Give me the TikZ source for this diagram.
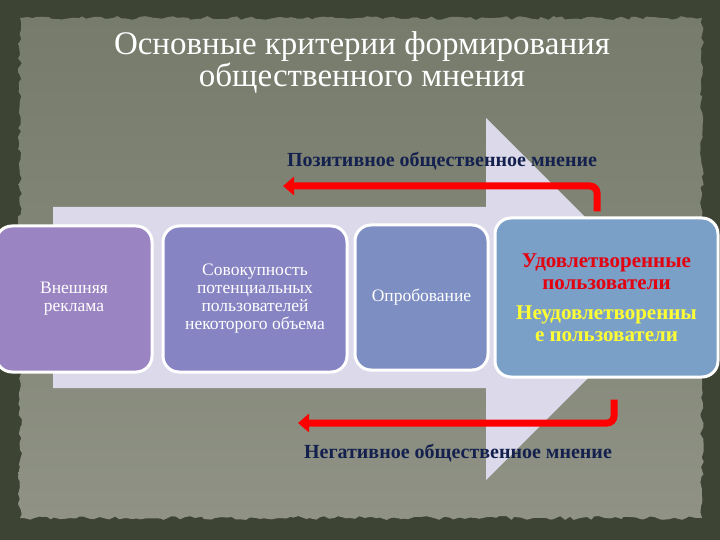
\documentclass[tikz,border=0pt]{standalone}
\usepackage{fontspec}
\setmainfont{Liberation Serif}
\usepackage{tikz}
\usetikzlibrary{calc,arrows.meta,decorations.pathmorphing}
\usepackage{xcolor}
\definecolor{framecol}{HTML}{3E4434}
\definecolor{papertop}{HTML}{767B6B}
\definecolor{paperbot}{HTML}{8F9284}
\definecolor{arrowbody}{HTML}{DCDAEA}
\definecolor{boxa}{HTML}{9A84C2}
\definecolor{boxb}{HTML}{8784C3}
\definecolor{boxc}{HTML}{7D8EC2}
\definecolor{boxd}{HTML}{7BA0C7}
\definecolor{opinion}{HTML}{14214F}
\definecolor{satred}{HTML}{E3000F}
\definecolor{unsatyellow}{HTML}{FFFF33}
\newcommand{\crbox}[8][]{\node[critbox,fill=#3,minimum width=#6,minimum height=#7,#1] (#2) at (#4,#5) {#8};}
\tikzset{
  critbox/.style={draw=white,line width=3pt,rounded corners=16pt,align=center,text=white,inner sep=2pt,font=\fontsize{17.5}{18}\selectfont},
  userbox/.style={font=\bfseries\fontsize{21}{22}\selectfont},
  opinionarrow/.style={draw=red,line width=7pt,rounded corners=7pt,-{Triangle[length=11pt,width=18pt]}},
  opinionlabel/.style={text=opinion,font=\bfseries\fontsize{20}{22}\selectfont}
}

\begin{document}
\begin{tikzpicture}[x=1pt,y=-1pt]

    \useasboundingbox (0,0) rectangle (720,540);
    \clip (0,0) rectangle (720,540);

    \fill[framecol] (0,0) rectangle (720,540);
    \shade[top color=papertop,bottom color=paperbot,decorate,decoration={random steps,segment length=5pt,amplitude=2pt}] (20,18) rectangle (702,518);

    \node[text=white,align=center,font=\fontsize{33}{32}\selectfont] (title) at (362,62) {Основные критерии формирования\\общественного мнения};

    \fill[arrowbody] (53,207) -- (486,207) -- (486,118) -- (667,299) -- (486,480) -- (486,388) -- (53,388) -- cycle;

    \crbox{adv}{boxa}{74}{299}{156}{146}{Внешняя\\реклама}
    \crbox{pool}{boxb}{255}{299}{184}{146}{Совокупность\\потенциальных\\пользователей\\некоторого объема}
    \crbox{trial}{boxc}{421.5}{297.5}{133}{145}{Опробование}
    \crbox[userbox]{users}{boxd}{606.5}{297.5}{223}{159}{\color{satred}Удовлетворенные\\\color{satred}пользователи\\[8pt]\color{unsatyellow}Неудовлетворенны\\\color{unsatyellow}е пользователи}

    \coordinate (posend) at (283,186);
    \coordinate (negend) at (298,423);

    \draw[opinionarrow] ($(users.north)+(-9.5,-5)$) |- (posend);
    \draw[opinionarrow] ($(users.south)+(7.5,21)$) |- (negend);

    \node[opinionlabel] (poslabel) at (442,161) {Позитивное общественное мнение};
    \node[opinionlabel] (neglabel) at (458,453) {Негативное общественное мнение};

\end{tikzpicture}
\end{document}
